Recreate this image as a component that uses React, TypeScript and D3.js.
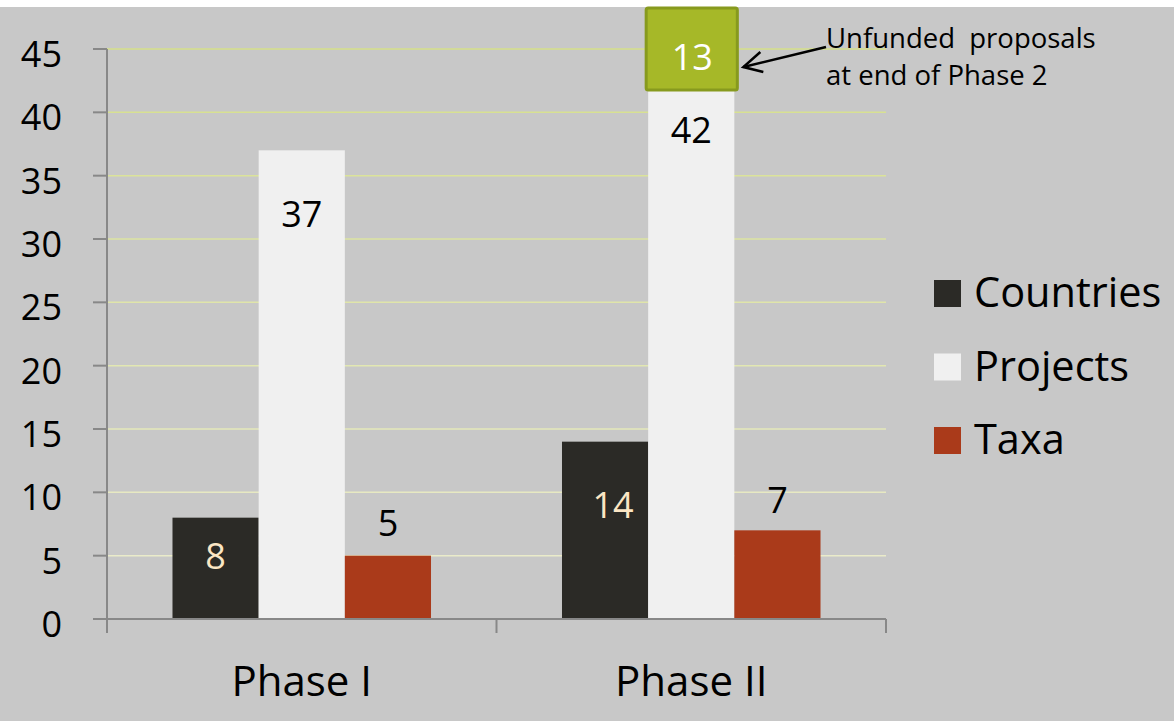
import React, { useEffect, useRef } from 'react';
import * as d3 from 'd3';

// data
const phases = ['Phase I', 'Phase II'];
const seriesNames = ['Countries', 'Projects', 'Taxa'];
const countries = [8, 14];
const projects = [37, 42];
const taxa = [5, 7];
const yTicks = [0, 5, 10, 15, 20, 25, 30, 35, 40, 45];
const unfunded = 13;
const noteLines = ['Unfunded  proposals', 'at end of Phase 2'];

const App = () => {
  const svgRef = useRef(null);

  useEffect(() => {
    const width = 1174;
    const height = 721;
    const svg = d3.select(svgRef.current);
    svg.selectAll('*').remove();
    svg.attr('width', width).attr('height', height);

    const font = '"Open Sans", "Noto Sans", sans-serif';
    const colors = ['#2b2a26', '#f0f0f0', '#aa3a1a'];
    const labelColors = ['#fbe6c4', '#000', '#000'];
    const values = [countries, projects, taxa];

    const left = 107, right = 886, top = 49, bottom = 619;

    svg.append('rect')
      .attr('x', 0).attr('y', 7)
      .attr('width', width).attr('height', height - 7)
      .attr('fill', '#c8c8c8');

    const y = d3.scaleLinear().domain([0, 45]).range([bottom, top]);
    const x0 = d3.scaleBand().domain(phases).range([left, right]);
    const x1 = d3.scaleBand().domain(seriesNames)
      .range([0, x0.bandwidth()]).paddingOuter(0.76).paddingInner(0);

    // gridlines
    const gridColor = d3.scaleLinear<string>().domain([0, 45]).range(['#ececd2', '#d6e08a']);
    svg.append('g').selectAll('line')
      .data(yTicks.filter(d => d > 0))
      .enter().append('line')
      .attr('x1', left).attr('x2', right)
      .attr('y1', d => y(d)).attr('y2', d => y(d))
      .attr('stroke', d => gridColor(d))
      .attr('stroke-width', 1.5);

    // bars
    const groups = svg.append('g').selectAll('g')
      .data(phases)
      .enter().append('g')
      .attr('transform', d => `translate(${x0(d)},0)`);

    groups.selectAll('rect')
      .data((p, i) => seriesNames.map((s, k) => ({ s, k, v: values[k][i] })))
      .enter().append('rect')
      .attr('x', d => x1(d.s))
      .attr('width', x1.bandwidth())
      .attr('y', d => y(d.v))
      .attr('height', d => y(0) - y(d.v))
      .attr('fill', d => colors[d.k]);

    // data labels (hand placed in the original)
    const labelOffset = [[-38, -64, 33], [-63, -43, 30]];
    groups.selectAll('text')
      .data((p, i) => seriesNames.map((s, k) => ({ s, k, i, v: values[k][i] })))
      .enter().append('text')
      .attr('x', d => x1(d.s) + x1.bandwidth() / 2 + (d.i === 1 && d.k === 0 ? 8 : 0))
      .attr('y', d => y(d.v) - labelOffset[d.i][d.k] + 13)
      .attr('text-anchor', 'middle')
      .attr('font-family', font)
      .attr('font-size', 36)
      .attr('fill', d => labelColors[d.k])
      .text(d => d.v);

    // unfunded box on top of the Phase II projects bar
    const bx = x0('Phase II') + x1('Projects');
    const boxBottom = y(projects[1]) + 3;
    svg.append('rect')
      .attr('x', bx - 2).attr('y', 8)
      .attr('width', x1.bandwidth() + 5)
      .attr('height', boxBottom - 8)
      .attr('fill', '#a6b828')
      .attr('stroke', '#879a1e')
      .attr('stroke-width', 3)
      .attr('rx', 2);
    svg.append('text')
      .attr('x', bx + x1.bandwidth() / 2 + 1)
      .attr('y', 70)
      .attr('text-anchor', 'middle')
      .attr('font-family', font)
      .attr('font-size', 36)
      .attr('fill', '#fff')
      .text(unfunded);

    // arrow + note
    const ax = bx + x1.bandwidth() + 9;
    svg.append('line')
      .attr('x1', 826).attr('y1', 47)
      .attr('x2', ax).attr('y2', 67)
      .attr('stroke', '#000').attr('stroke-width', 2.5);
    svg.append('path')
      .attr('d', `M${ax + 17},${52} L${ax},${67} L${ax + 20},${72}`)
      .attr('fill', 'none').attr('stroke', '#000').attr('stroke-width', 2.5);
    svg.append('g').selectAll('text')
      .data(noteLines)
      .enter().append('text')
      .attr('x', 826)
      .attr('y', (d, i) => 48 + i * 37)
      .attr('font-family', font)
      .attr('font-size', 27.5)
      .attr('fill', '#000')
      .style('white-space', 'pre')
      .text(d => d);

    // y axis
    const yAxis = svg.append('g');
    yAxis.append('line')
      .attr('x1', left).attr('x2', left).attr('y1', top).attr('y2', bottom)
      .attr('stroke', '#888').attr('stroke-width', 2);
    yAxis.selectAll('line.tick')
      .data(yTicks)
      .enter().append('line').attr('class', 'tick')
      .attr('x1', 93).attr('x2', left)
      .attr('y1', d => y(d)).attr('y2', d => y(d))
      .attr('stroke', '#888').attr('stroke-width', 2);
    yAxis.selectAll('text')
      .data(yTicks)
      .enter().append('text')
      .attr('x', 62)
      .attr('y', d => y(d) + 18)
      .attr('text-anchor', 'end')
      .attr('font-family', font)
      .attr('font-size', 36)
      .attr('fill', '#000')
      .text(d => d);

    // x axis
    const xAxis = svg.append('g');
    xAxis.append('line')
      .attr('x1', left).attr('x2', right).attr('y1', bottom).attr('y2', bottom)
      .attr('stroke', '#888').attr('stroke-width', 2);
    xAxis.selectAll('line.tick')
      .data([...phases.map(p => x0(p)), right])
      .enter().append('line').attr('class', 'tick')
      .attr('x1', d => d).attr('x2', d => d)
      .attr('y1', bottom).attr('y2', bottom + 14)
      .attr('stroke', '#888').attr('stroke-width', 2);
    xAxis.selectAll('text')
      .data(phases)
      .enter().append('text')
      .attr('x', d => x0(d) + x0.bandwidth() / 2)
      .attr('y', 696)
      .attr('text-anchor', 'middle')
      .attr('font-family', font)
      .attr('font-size', 42)
      .attr('fill', '#000')
      .text(d => d);

    // legend
    const legend = svg.append('g').selectAll('g')
      .data(seriesNames)
      .enter().append('g')
      .attr('transform', (d, i) => `translate(934,${280 + i * 73.5})`);
    legend.append('rect')
      .attr('width', 27).attr('height', 27)
      .attr('fill', (d, i) => colors[i]);
    legend.append('text')
      .attr('x', 40).attr('y', 27)
      .attr('font-family', font)
      .attr('font-size', 41.5)
      .attr('fill', '#000')
      .text(d => d);
  }, []);

  return (
    <div style={{ position: 'absolute', left: 0, top: 0 }}>
      <svg ref={svgRef} style={{ display: 'block' }}></svg>
    </div>
  );
};

export default App;
